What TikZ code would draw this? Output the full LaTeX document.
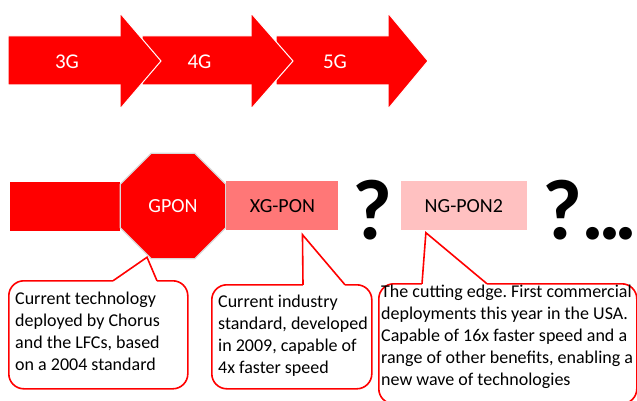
\documentclass[tikz,border=0pt]{standalone}
\usepackage{fontspec}
\setmainfont{Carlito}
\usetikzlibrary{shapes.geometric,calc,positioning}
\definecolor{vred}{HTML}{FF0000}
\definecolor{xgred}{HTML}{FF7777}
\definecolor{ngpink}{HTML}{FFC1C1}
\frenchspacing

\begin{document}
\begin{tikzpicture}[x=1pt, y=-1pt,
    arrowshape/.style={fill=vred, draw=white, line width=1pt},
    gen/.style={text=white, font=\fontsize{21}{24}\selectfont},
    ponbox/.style={minimum width=112pt, minimum height=49pt, inner sep=0pt, font=\fontsize{20}{24}\selectfont},
    callout/.style={draw=vred, line width=1.6pt, rounded corners=15pt, anchor=north west, inner sep=0pt},
    calltext/.style={anchor=north west, inner sep=0pt, align=left, font=\fontsize{18}{22}\selectfont},
    pointer/.style={draw=vred, line width=1.6pt},
    query/.style={font=\fontsize{86}{86}\selectfont\bfseries, inner sep=0pt}]
  \useasboundingbox (0,0) rectangle (637,401);
  % generations, drawn from the right so each head sits on the next arrow
  \foreach \l/\b/\t/\g in {276/388/428/5G, 142/251/293/4G, 8/120/161/3G}{
    \draw[arrowshape] (\l,36) -- (\b,36) -- (\b,13) -- (\t,61) -- (\b,109) -- (\b,85) -- (\l,85) -- cycle;
    \node[gen] (gen\g) at ({(\l+\b)/2+3},62) {\g};
  }
  % PON standards
  \node[fill=vred, minimum width=110pt, minimum height=49pt, inner sep=0pt] (bar) at (65,206.5) {};
  \node[regular polygon, regular polygon sides=8, minimum size=114pt, inner sep=0pt,
        fill=vred, draw=white!85!black, line width=1.2pt, text=white,
        font=\fontsize{20}{24}\selectfont] (gpon) at (173,206) {GPON};
  \node[ponbox, fill=xgred, anchor=west] (xgpon) at (gpon.east) {XG-PON};
  \node[query] (q1) at (372,210) {?};
  \node[ponbox, fill=ngpink, minimum width=126pt, right=62pt of xgpon] (ngpon) {NG-PON2};
  \node[query, anchor=west] (q2) at (542,210) {?\kern-1pt.\kern-6pt.\kern-6pt.};
  % callouts
  \node[callout, minimum width=179pt, minimum height=108pt] (c1) at (8,280) {};
  \node[callout, minimum width=160pt, minimum height=104pt] (c2) at (211,284) {};
  \node[callout, minimum width=258pt, minimum height=120pt] (c3) at (378,283) {};
  \coordinate (tip1) at ($(gpon.south)+(-26,-2)$);
  \coordinate (tip2) at ($(xgpon.south)+(20,4)$);
  \coordinate (tip3) at ($(ngpon.south)+(-38,2)$);
  \foreach \c/\a/\b in {1/105/149, 2/92/134, 3/44/109}{
    \draw[white, line width=3pt] ($(c\c.north west)+(\a,0.8)$) -- ($(c\c.north west)+(\b,0.8)$);
    \draw[pointer] ($(c\c.north west)+(\a,0.8)$) -- (tip\c) -- ($(c\c.north west)+(\b,0.8)$);
  }
  \node[calltext] (t1) at (15,292) {Current technology\\deployed by Chorus\\and the LFCs, based\\on a 2004 standard};
  \node[calltext] (t2) at (218,295) {Current industry\\standard, developed\\in 2009, capable of\\4x faster speed};
  \node[calltext] (t3) at (381,285) {The cutting edge. First commercial\\deployments this year in the USA.\\Capable of 16x faster speed and a\\range of other benefits, enabling a\\new wave of technologies};
\end{tikzpicture}
\end{document}
